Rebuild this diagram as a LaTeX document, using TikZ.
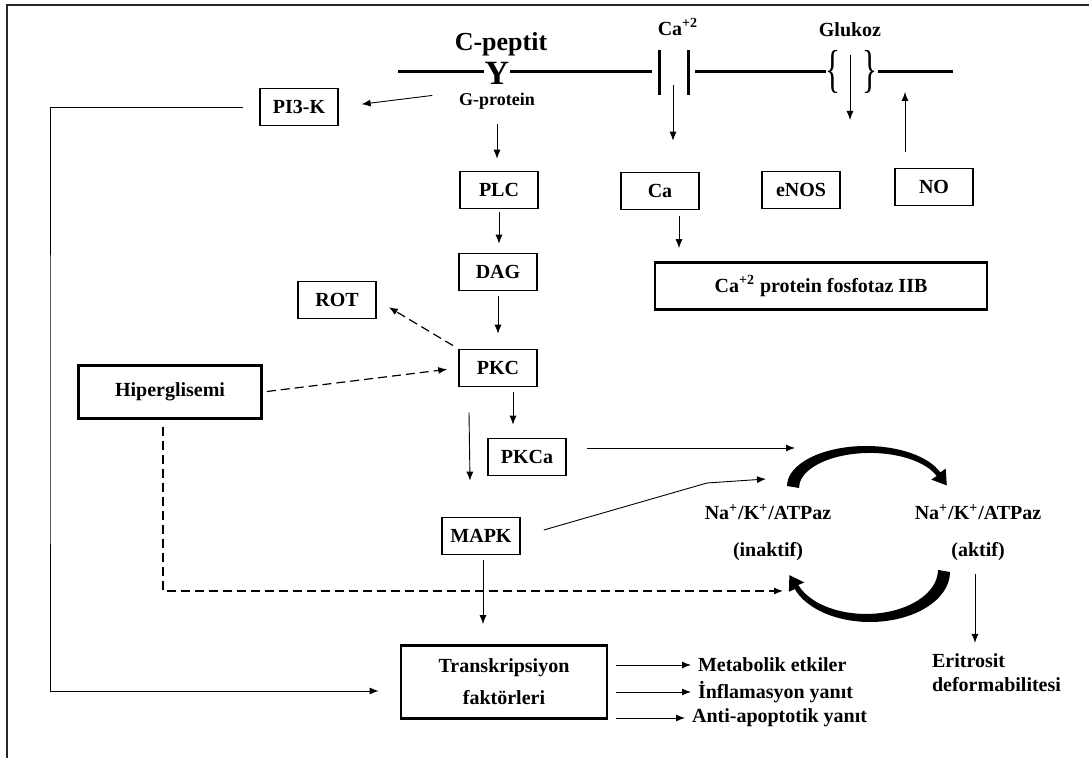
\documentclass[tikz,border=0pt]{standalone}
\usepackage{fontspec}
\setmainfont{Liberation Serif}
\usetikzlibrary{arrows.meta}

\begin{document}
\begin{tikzpicture}[x = 0.5pt, y = -0.5pt, >={Latex[length = 4.5pt, width = 3.5pt]},
  every node/.style = {font = \bfseries\fontsize{10}{12}\selectfont},
  box/.style = {draw, line width = 0.8pt, minimum width = 39pt, minimum height = 18.5pt, inner sep = 1pt},
  bigbox/.style = {draw, line width = 1.4pt, inner sep = 1pt},
  conn/.style = {->, line width = 0.45pt},
  dconn/.style = {->, line width = 0.6pt, dash pattern = on 4.5pt off 2.5pt},
  membrane/.style = {line width = 1.5pt}]

\useasboundingbox (0,0) rectangle (1089,758);
\draw[line width = 0.7pt, black!85] (7,758) -- (7,5) -- (1089,5);

\draw[membrane] (398,72) -- (484,72);
\draw[membrane] (510,72) -- (652,72);
\draw[membrane] (695,72) -- (826,72);
\draw[membrane] (878,72) -- (953,72);
\draw[membrane] (659,50) -- (659,95);
\draw[membrane] (688,50) -- (688,95);
\node (lbrace) at (833,72) [xscale = 0.6, font = \fontsize{26}{26}\selectfont] {\{};
\node (rbrace) at (870,72) [xscale = 0.6, font = \fontsize{26}{26}\selectfont] {\}};

\node (ypep) at (497,73) [font = \bfseries\fontsize{17}{17}\selectfont] {Y};
\node (cpep) at (501,44) [font = \bfseries\fontsize{13}{14}\selectfont] {C-peptit};
\node (caion) at (678,27) {Ca\textsuperscript{+2}};
\node (gluk) at (850,30) {Glukoz};
\node (gpr) at (497,101) [font = \bfseries\fontsize{9}{11}\selectfont] {G-protein};

\node[box] (pik) at (299,107) {PI3-K};
\node[box] (plc) at (499,190) {PLC};
\node[box] (dag) at (498,272) {DAG};
\node[box] (pkc) at (498,368) {PKC};
\node[box] (rot) at (337,300) {ROT};
\node[box] (pkca) at (527,457) {PKCa};
\node[box] (mapk) at (481,536) {MAPK};
\node[box] (ca) at (660,191) {Ca};
\node[box] (enos) at (801,190) {eNOS};
\node[box] (no) at (934,187) {NO};
\node[bigbox, minimum width = 91.5pt, minimum height = 26.5pt] (hip) at (170,392) {Hiperglisemi};
\node[bigbox, minimum width = 103pt, minimum height = 36.5pt, align = center] (tf) at (504,682) {Transkripsiyon\\[4pt]faktörleri};
\node[bigbox, minimum width = 166pt, minimum height = 23.5pt] (fosf) at (821,286) {Ca\textsuperscript{+2} protein fosfotaz IIB};

\node (nakl) at (768,533) [align = center] {Na\textsuperscript{+}/K\textsuperscript{+}/ATPaz\\[6.5pt](inaktif)};
\node (nakr) at (978,533) [align = center] {Na\textsuperscript{+}/K\textsuperscript{+}/ATPaz\\[6.5pt](aktif)};
\node (eri) at (925,673) [align = left, anchor = west] {Eritrosit\\deformabilitesi};
\node (met) at (691,665) [anchor = west] {Metabolik etkiler};
\node (inf) at (691,692) [anchor = west] {İnflamasyon yanıt};
\node (apo) at (685,718) [anchor = west] {Anti-apoptotik yanıt};

\fill (787,486) arc[start angle = 180, end angle = 340, x radius = 79, y radius = 40] -- (945.7,468.8) -- (946.8,485.4) -- (931.3,479.6) -- (936.7,476) arc[start angle = 340, end angle = 180, x radius = 71, y radius = 35] -- cycle;
\fill (950,572) arc[start angle = 0, end angle = 160, x radius = 80, y radius = 50] -- (788.9,591.7) -- (789.4,575.1) -- (804.3,582.5) -- (798.3,585) arc[start angle = 160, end angle = 0, x radius = 72, y radius = 44] -- cycle;

\coordinate (chin) at (673,85);
\coordinate (glin) at (850,55);
\coordinate (glout) at (850,120);
\coordinate (nomem) at (905,92);
\coordinate (lft) at (50,400);
\coordinate (pkcaend) at (795,448);
\coordinate (mapkend) at (766,479);
\coordinate (hipend) at (783,591);

\draw[conn, shorten <= 10pt, shorten >= 11.5pt] ([yshift = 4pt]gpr.west) -- (pik.east);
\draw[conn, shorten <= 4pt, shorten >= 6pt] (gpr.south) -- (gpr.south |- plc.north);
\draw[conn, shorten <= 1.5pt, shorten >= 4.5pt] (plc.south) -- (plc.south |- dag.north);
\draw[conn, shorten <= 2.5pt, shorten >= 7.5pt] (dag.south) -- (dag.south |- pkc.north);
\draw[dconn, shorten <= 3pt, shorten >= 7pt] (pkc.north west) -- (rot.east);
\draw[dconn, shorten <= 2pt, shorten >= 5.5pt] (hip.east) -- (pkc.west);
\draw[conn, shorten <= 2.5pt, shorten >= 6.5pt] ([xshift = 7.5pt]pkc.south) -- ([xshift = 7.5pt]pkc.south |- pkca.north);
\draw[conn] ([shift = {(-29,25)}]pkc.south) -- ([shift = {(-11,-36)}]mapk.north);
\draw[conn, shorten <= 2.5pt, shorten >= 10pt] ([xshift = 1pt]mapk.south) -- ([xshift = 1pt]mapk.south |- tf.north);
\draw[conn] ([shift = {(20,-9)}]pkca.east) -- (pkcaend);
\draw[conn] ([shift = {(23,-6)}]mapk.east) -- (707,483) -- (mapkend);
\draw[dconn] ([shift = {(-7,7)}]hip.south) |- (hipend);
\draw[conn, shorten <= 8pt, shorten >= 10.5pt] (pik.west) -| (lft) |- ([yshift = -4.5pt]tf.west);
\draw[conn, shorten <= 4pt] (tf.east |- met.west) -- (met.west);
\draw[conn, shorten <= 4pt] (tf.east |- inf.west) -- (inf.west);
\draw[conn, shorten <= 4pt] (tf.east |- apo.west) -- (apo.west);
\draw[conn, shorten >= 15.5pt] (chin) -- (chin |- ca.north);
\draw[conn] (glin) -- (glout);
\draw[conn, shorten <= 8pt] (no.north -| nomem) -- (nomem);
\draw[conn, shorten <= 3pt, shorten >= 6.5pt] ([xshift = 9.5pt]ca.south) -- ([xshift = 9.5pt]ca.south |- fosf.north);
\draw[conn, shorten <= 3pt, shorten >= 2pt] ([xshift = -1.5pt]nakr.south) -- ([xshift = -1.5pt]nakr.south |- eri.north);
\end{tikzpicture}
\end{document}
